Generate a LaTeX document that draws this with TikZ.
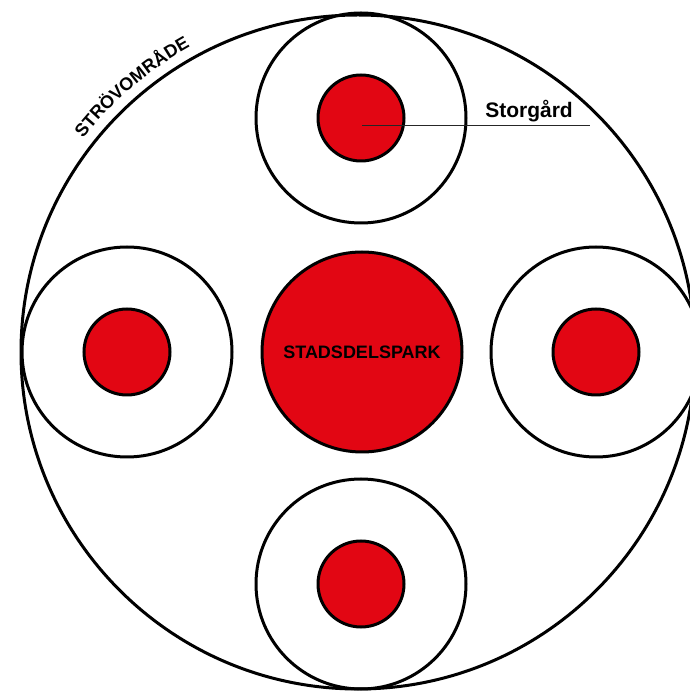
\documentclass[tikz,border=0pt]{standalone}
\usepackage{fontspec}
\setmainfont{Liberation Sans}
\usepackage{xcolor}
\usepackage{tikz}
\usetikzlibrary{decorations.text}
\definecolor{parkred}{RGB}{226,6,19}
\tikzstyle{omrade}=[circle, draw, line width=3pt, minimum size=674pt, inner sep=0pt]
\tikzstyle{ring}=[circle, draw, line width=3pt, minimum size=210pt, inner sep=0pt]
\tikzstyle{gard}=[circle, draw, fill=parkred, line width=3pt, minimum size=86pt, inner sep=0pt]
\tikzstyle{stadspark}=[circle, draw, fill=parkred, line width=3pt, minimum size=200pt, inner sep=0pt,% the big red park in the middle
font=\bfseries\fontsize{18}{20}\selectfont]
\tikzstyle{pekare}=[line width=1pt, black!85]

\begin{document}
\begin{tikzpicture}[x=1pt,y=1pt]
\clip (0,0) rectangle (690,691);
\node[omrade] (SO) at (358,339) {};
\node[stadspark] (SP) at (362,339) {STADSDELSPARK};
\node[ring] (RN) at (361,573) {};
\node[gard] (GN) at (361,573) {};
\node[ring] (RS) at (361,107) {};
\node[gard] (GS) at (361,107) {};
\node[ring] (RV) at (127,339) {};
\node[gard] (GV) at (127,339) {};
\node[ring] (RO) at (596,339) {};
\node[gard] (GO) at (596,339) {};
\coordinate (SGa) at (362,565);
\coordinate (SGb) at (590,565);
\draw[pekare] (SGa) -- (SGb);
\node[anchor=base, inner sep=0pt, font=\bfseries\fontsize{21}{24}\selectfont] (SG) at (529,573) {Storgård};
\path[decorate, decoration={text along path, text align=center,
  text={|\bfseries\fontsize{18}{20}\selectfont|STRÖVOMRÅDE}}]
  (SO.center) ++(143:348) arc[start angle=143, end angle=118, radius=348pt];
\end{tikzpicture}
\end{document}
